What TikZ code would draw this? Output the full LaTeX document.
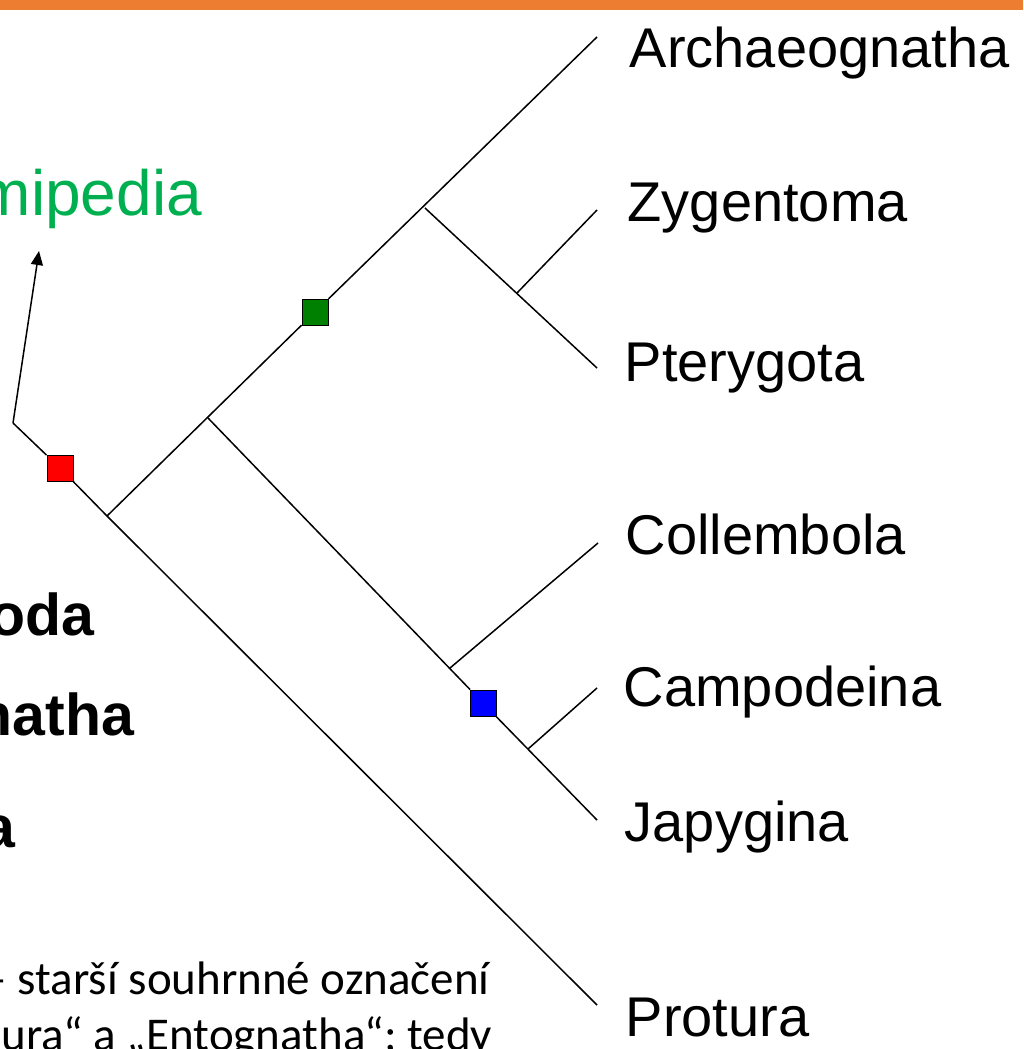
\documentclass[tikz,border=0pt]{standalone}
\usepackage{fontspec}
\setmainfont{Liberation Sans}
\newfontfamily\calibri{Carlito}
\usetikzlibrary{arrows.meta,calc}
\definecolor{myorange}{HTML}{ED7D31}
\definecolor{mygreen}{HTML}{00B050}
\definecolor{myred}{RGB}{255,0,0}
\definecolor{myblue}{RGB}{0,0,255}
\definecolor{mydarkgreen}{RGB}{0,128,0}

\begin{document}
\begin{tikzpicture}[x=1pt,y=-1pt,line width=1.5pt,
    taxon/.style={anchor=base west,inner sep=0pt,font=\fontsize{56}{60}\selectfont},
    group/.style={anchor=base east,inner sep=0pt,font=\fontsize{59}{64}\selectfont\bfseries},
    note/.style={anchor=base west,inner sep=0pt,font=\calibri\fontsize{47}{56}\selectfont},
    apo/.style={draw,line width=1pt,minimum size=26pt,inner sep=0pt}
  ]
  \useasboundingbox (0,0) rectangle (1023,1049);
  \fill[myorange] (0,0) rectangle (1023,10);

  % the branching points
  \coordinate (root) at (13,423);
  \coordinate (tip) at (39,251);
  \coordinate (n1) at (107,516);
  \coordinate (n2) at (425,208);
  \coordinate (n3) at (208,418);
  \coordinate (n4) at (517,293);
  \coordinate (n5) at (450,668);
  \coordinate (n6) at (528,749);

  % the branch ends
  \coordinate (archEnd) at (597,37);
  \coordinate (zygEnd) at (597,210);
  \coordinate (pteEnd) at (597,368);
  \coordinate (colEnd) at (598,543);
  \coordinate (camEnd) at (597,688);
  \coordinate (japEnd) at (597,820);
  \coordinate (proEnd) at (597,1005);

  % the squares
  \node[apo,fill=myred] (sqRed) at (60,468) {};
  \node[apo,fill=mydarkgreen] (sqGreen) at (315,312) {};
  \node[apo,fill=myblue] (sqBlue) at (483,703) {};

  % the branches
  \draw (root) -- (sqRed) -- (n1) -- (proEnd);
  \draw (n1) -- (sqGreen) -- (archEnd);
  \draw (n2) -- (pteEnd);
  \draw (n4) -- (zygEnd);
  \draw (n3) -- (sqBlue) -- (japEnd);
  \draw (n5) -- (colEnd);
  \draw (n6) -- (camEnd);
  \draw[-{Triangle[length=14pt,width=12pt]}] (root) -- (tip);

  % the taxa
  \node[taxon] (archaeognatha) at (629,67) {Archaeognatha};
  \node[taxon] (zygentoma) at (627,221) {Zygentoma};
  \node[taxon] (pterygota) at (624,381) {Pterygota};
  \node[taxon] (collembola) at (625,554) {Collembola};
  \node[taxon] (campodeina) at (623,706) {Campodeina};
  \node[taxon] (japygina) at (624,841) {Japygina};
  \node[taxon] (protura) at (625,1036) {Protura};

  % the texts on the left
  \node[anchor=base west,inner sep=0pt,text=mygreen,font=\fontsize{64}{70}\selectfont] (remi) at (-23,215) {mipedia};
  \node[group] (g1) at (95,635) {oda};
  \node[group] (g2) at (135,735) {natha};
  \node[group] (g3) at (16,847) {a};
  \node[note] (note1) at (-17,994) {– starší souhrnné označení};
  \node[note] (note2) at (1,1050) {ura“ a „Entognatha“; tedy};
\end{tikzpicture}
\end{document}
